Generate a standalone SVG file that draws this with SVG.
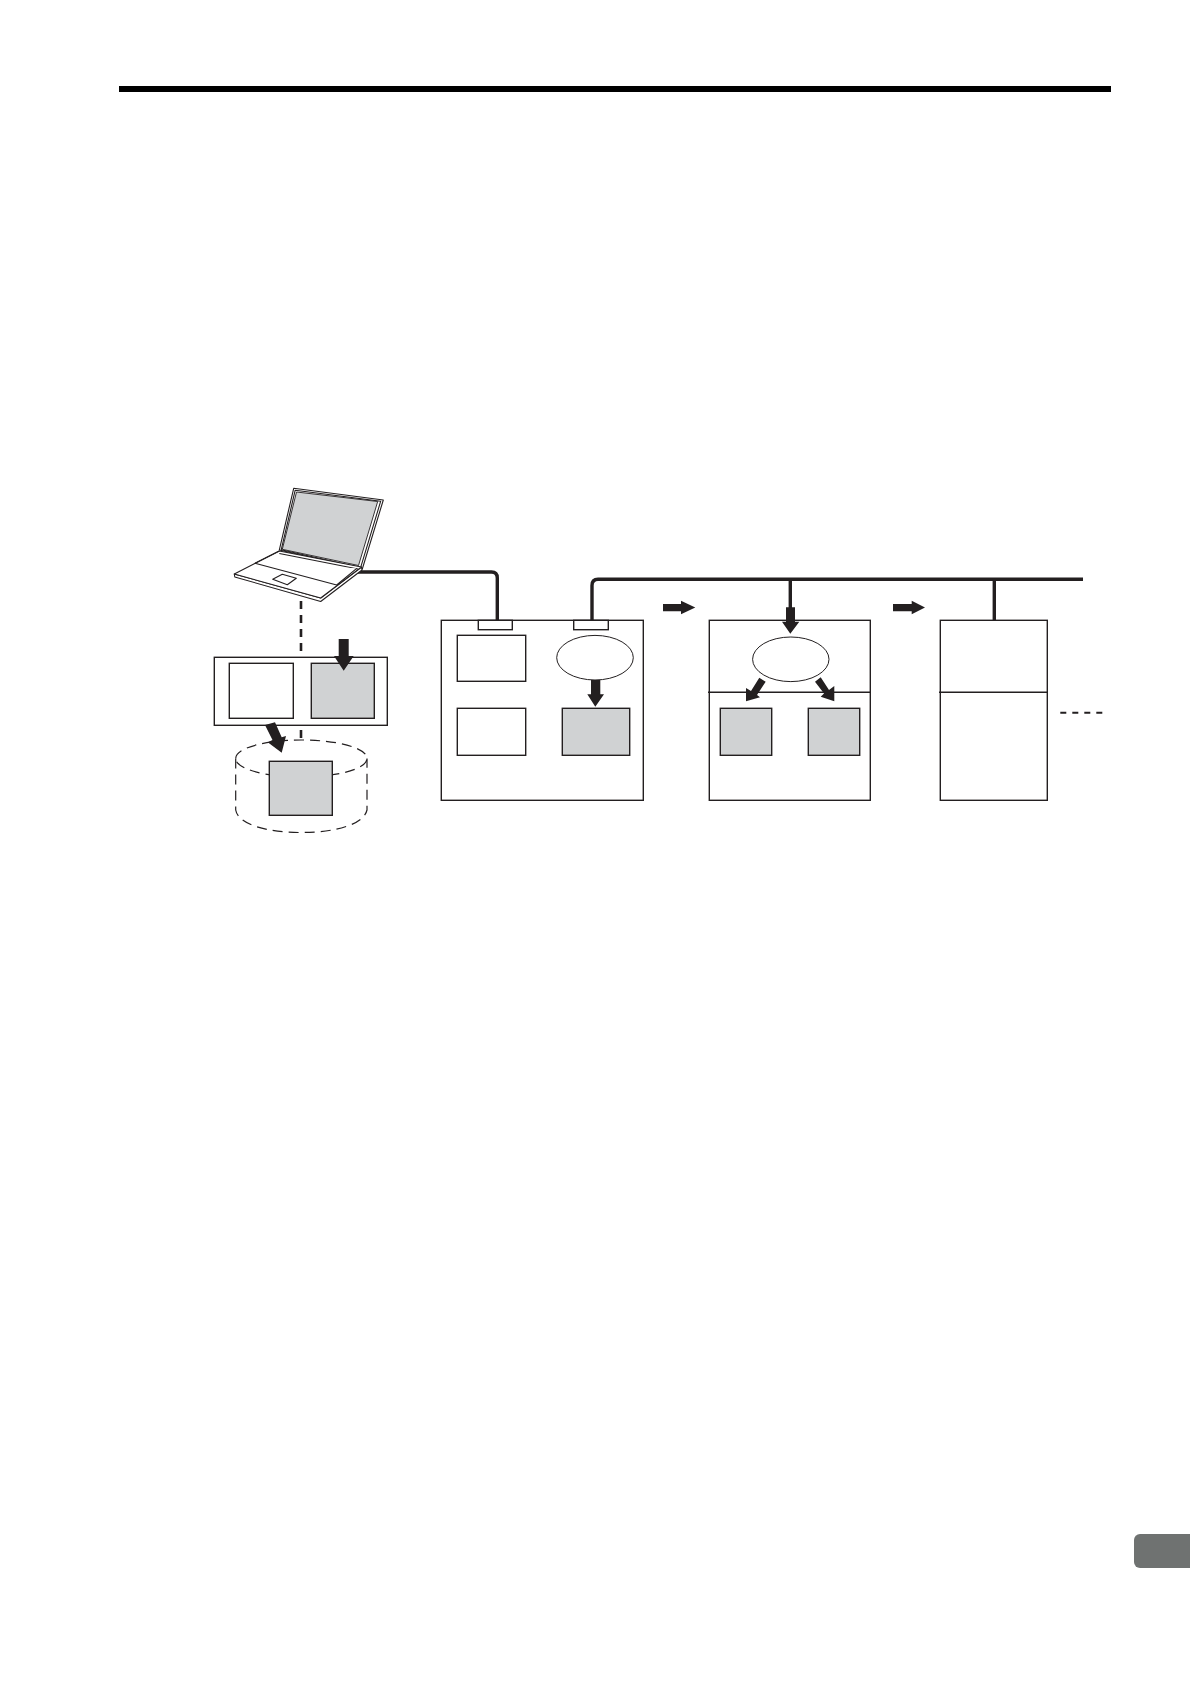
<svg xmlns="http://www.w3.org/2000/svg" width="1190" height="1684" viewBox="0 0 1190 1684">
<style>
.b{fill:#fff;stroke:#231f20;stroke-width:1.4}
.g{fill:#d0d2d3;stroke:#231f20;stroke-width:1.4}
.e{fill:#fff;stroke:#231f20;stroke-width:1}
.l{fill:none;stroke:#231f20;stroke-width:1.4}
.t{fill:#fff;stroke:#231f20;stroke-width:1.1;stroke-linejoin:round}
.c{fill:none;stroke:#231f20;stroke-width:3.4}
.d{fill:none;stroke:#231f20;stroke-width:1.2;stroke-dasharray:10 6}
.a{fill:#231f20}
</style>
<rect width="1190" height="1684" fill="#fff"/>
<rect id="top-rule" x="119" y="86" width="992" height="6" fill="#000"/>
<rect id="page-tab" x="1134" y="1534" width="70" height="34" rx="6" fill="#6f7271"/>

<g id="database">
<path class="d" d="M235.7 758.5C235.7 748 265 740 301.3 740S367 748 367 758.5S337 777 301.3 777S235.7 769 235.7 758.5Z"/>
<path class="d" d="M235.7 758.5V810C238 824 266 832.5 301.3 832.5S364 824 367 810V758.5"/>
</g>

<g id="connectors">
<path d="M301 601V654M301 730V739" fill="none" stroke="#231f20" stroke-width="2.6" stroke-dasharray="8 6"/>
<path class="c" d="M358 572H491.5Q497.3 572 497.3 578V620"/>
<path class="c" d="M592 620V585.5Q592 579.3 598 579.3H1083"/>
<path class="c" d="M790.3 579V610M994.3 579V620"/>
<path d="M1060.3 712.7H1102.3" fill="none" stroke="#231f20" stroke-width="2" stroke-dasharray="6 6"/>
</g>

<g id="laptop">
<path class="t" d="M293.7 488.3L383.3 500L362.3 569L279.3 550Z"/>
<path class="t" d="M295.2 490.2L380.7 501.2L360.6 567.6L281.2 549.8Z"/>
<path d="M296.5 492L377.7 501.5L358.5 565.5L282.3 549.3Z" fill="#d0d2d3" stroke="#231f20" stroke-width=".9"/>
<path class="t" d="M234.3 574L234.8 577L320.7 601.5L362 570L361.5 567L320.7 598Z"/>
<path class="t" d="M234.3 574L279.3 551L361.5 567L320.7 598Z"/>
<path class="t" d="M279.3 553.5L358 569"/>
<path class="t" d="M255 563.3L336.7 585L356.7 568.3"/>
<path class="t" d="M255 563.3L279.3 551"/>
<path class="t" d="M272.7 579.3L282.3 574.3L296.3 578.3L287.3 584.7Z"/>
</g>

<g id="buffer-panel">
<rect class="b" x="214.3" y="657.3" width="173" height="68"/>
<rect class="b" x="229.3" y="663.3" width="64" height="55"/>
<rect class="g" x="311.3" y="663.3" width="63" height="55"/>
</g>
<rect id="database-block" class="g" x="269.3" y="761.3" width="63" height="54"/>

<g id="controller-1">
<rect class="b" x="441.3" y="620.3" width="202" height="180"/>
<rect class="b" x="478.3" y="620.3" width="34" height="9.4"/>
<rect class="b" x="573.7" y="620.3" width="34.6" height="9.4"/>
<rect class="b" x="457.3" y="635.3" width="68.4" height="46"/>
<rect class="b" x="457.3" y="708.3" width="68.4" height="47"/>
<ellipse class="e" cx="595" cy="657.7" rx="38.3" ry="22.3"/>
<rect class="g" x="562.3" y="708.3" width="67.4" height="47"/>
</g>

<g id="controller-2">
<rect class="b" x="709.3" y="620.3" width="161" height="180"/>
<path class="l" d="M708 692.3H870.3"/>
<ellipse class="e" cx="790.8" cy="659.3" rx="38.2" ry="22.3"/>
<rect class="g" x="720.3" y="708.3" width="51.4" height="47"/>
<rect class="g" x="808.3" y="708.3" width="51.4" height="47"/>
</g>

<g id="controller-3">
<rect class="b" x="940.3" y="620.3" width="107" height="180"/>
<path class="l" d="M939 692.3H1047.3"/>
</g>

<g id="arrows">
<polygon class="a" points="338.7,639 348.7,639 348.7,656 353.7,656 343.7,670.7 334,656 338.7,656"/>
<polygon class="a" points="265,725 275,722.3 281.7,737.3 286,736 281.7,752.7 267.7,742.3 272.5,740"/>
<polygon class="a" points="591,680 600.3,680 600.3,694.3 604,694.3 595.3,706.7 587.3,694.3 591,694.3"/>
<polygon class="a" points="663,604 681,604 681,600.7 695.3,607.5 681,614.3 681,611.3 663,611.3"/>
<polygon class="a" points="786,607.3 795,607.3 795,621.7 799.3,621.7 790.3,633.7 782,621.7 786,621.7"/>
<polygon class="a" points="759.3,677.7 765.7,681.7 757,695 760,697.3 746,701.3 746,688 751,691"/>
<polygon class="a" points="815,681.7 820.7,677.3 829,690 834.3,686 834.3,701.3 820.7,696.7 824,693.5"/>
<polygon class="a" points="893,604 911.7,604 911.7,600.7 925,607.5 911.7,614.3 911.7,611.3 893,611.3"/>
</g>
</svg>
